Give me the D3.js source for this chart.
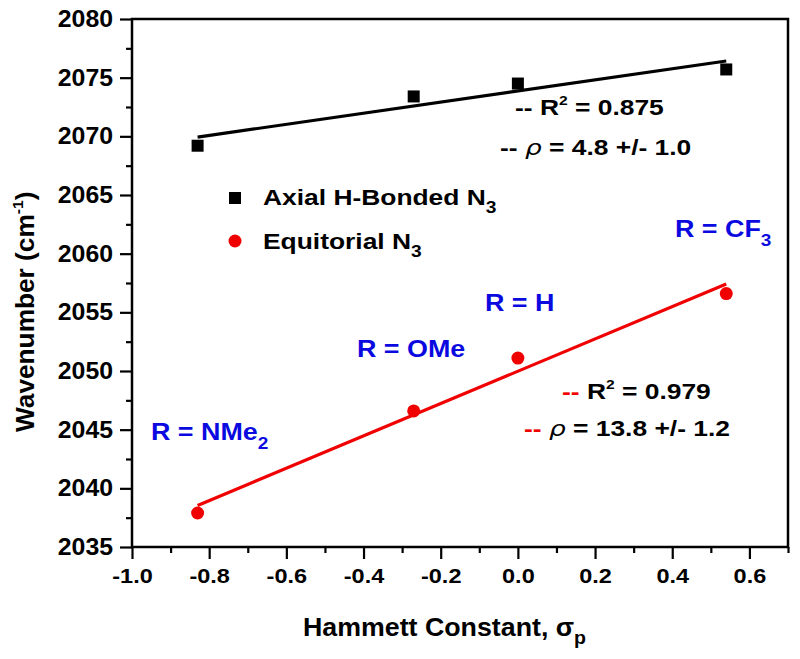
<!DOCTYPE html>
<html>
<head>
<meta charset="utf-8">
<script src="https://cdn.jsdelivr.net/npm/d3@7"></script>
<style>
  html, body { margin: 0; padding: 0; background: #fff; }
  svg text { font-family: "Liberation Sans", Arial, sans-serif; font-weight: bold; }
</style>
</head>
<body>
<svg id="chart" width="800" height="659"></svg>
<script>
// ---- data ----
const sigma = [-0.83, -0.27, 0.0, 0.54];
const axialN3 = [2069.2, 2073.4, 2074.5, 2075.7];
const equatorialN3 = [2037.9, 2046.6, 2051.1, 2056.6];
const substituentLabels = ["NMe2", "OMe", "H", "CF3"];
const xTicks = [-1.0, -0.8, -0.6, -0.4, -0.2, 0.0, 0.2, 0.4, 0.6];
const yTicks = [2035, 2040, 2045, 2050, 2055, 2060, 2065, 2070, 2075, 2080];
const xMinorTicks = [-0.9, -0.7, -0.5, -0.3, -0.1, 0.1, 0.3, 0.5, 0.7];
const yMinorTicks = [2037.5, 2042.5, 2047.5, 2052.5, 2057.5, 2062.5, 2067.5, 2072.5, 2077.5];
const axialStats = { r2: "0.875", rho: "4.8 +/- 1.0" };
const equatorialStats = { r2: "0.979", rho: "13.8 +/- 1.2" };

// ---- layout ----
const svg = d3.select("#chart");
const L = 132, R = 788, T = 19, B = 547;
const x = d3.scaleLinear().domain([-1.0, 0.7]).range([L, R]);
const y = d3.scaleLinear().domain([2035, 2080]).range([B, T]);

function fit(xs, ys) {
  const mx = d3.mean(xs), my = d3.mean(ys);
  let sxy = 0, sxx = 0;
  xs.forEach((v, i) => { sxy += (v - mx) * (ys[i] - my); sxx += (v - mx) * (v - mx); });
  const m = sxy / sxx;
  return v => my + m * (v - mx);
}

// text placed at (tx,ty) with horizontal stretch sx
function stext(tx, ty, size, sx, color, rot) {
  return svg.append("text")
    .attr("transform", `translate(${tx},${ty})` + (rot ? ` rotate(${rot})` : "") + ` scale(${sx},1)`)
    .attr("font-size", size).attr("fill", color || "#000");
}

// fit lines
const xr = d3.extent(sigma);
[[axialN3, "#000"], [equatorialN3, "#f00000"]].forEach(([ys, c]) => {
  const f = fit(sigma, ys);
  svg.append("path")
    .attr("d", d3.line()([[x(xr[0]), y(f(xr[0]))], [x(xr[1]), y(f(xr[1]))]]))
    .attr("stroke", c).attr("stroke-width", 3.2).attr("fill", "none");
});

// points
svg.append("g").selectAll("rect").data(sigma).join("rect")
  .attr("x", (d) => x(d) - 6).attr("y", (d, i) => y(axialN3[i]) - 6)
  .attr("width", 12).attr("height", 12).attr("fill", "#000");
svg.append("g").selectAll("circle").data(sigma).join("circle")
  .attr("cx", d => x(d)).attr("cy", (d, i) => y(equatorialN3[i]))
  .attr("r", 6.5).attr("fill", "#f00000");

// axes
const xSx = 1.12, ySx = 1.08;
const xAxis = svg.append("g").attr("transform", `translate(0,${B})`)
  .call(d3.axisBottom(x).tickValues(xTicks).tickFormat(d3.format(".1f")).tickSize(12).tickPadding(9));
svg.append("g").attr("transform", `translate(0,${B})`)
  .call(d3.axisBottom(x).tickValues(xMinorTicks).tickFormat("").tickSize(6))
  .call(g => g.select(".domain").remove());
const yAxis = svg.append("g").attr("transform", `translate(${L},0)`)
  .call(d3.axisLeft(y).tickValues(yTicks).tickFormat(d3.format("d")).tickSize(12).tickPadding(7));
svg.append("g").attr("transform", `translate(${L},0)`)
  .call(d3.axisLeft(y).tickValues(yMinorTicks).tickFormat("").tickSize(6))
  .call(g => g.select(".domain").remove());
svg.selectAll(".tick line").attr("stroke", "#000").attr("stroke-width", 2.2);
svg.selectAll(".domain").remove();
xAxis.selectAll("text").attr("font-size", 21).attr("fill", "#000")
  .style("font-family", "'Liberation Sans', Arial, sans-serif").style("font-weight", "bold")
  .attr("transform", `scale(${xSx},1)`)
  .text(d => d3.format(".1f")(d).replace("−", "-"));
yAxis.selectAll("text").attr("font-size", 23).attr("fill", "#000")
  .style("font-family", "'Liberation Sans', Arial, sans-serif").style("font-weight", "bold")
  .attr("x", -19 / ySx).attr("transform", `scale(${ySx},1)`);

// frame
svg.append("rect").attr("x", L).attr("y", T).attr("width", R - L).attr("height", B - T)
  .attr("fill", "none").attr("stroke", "#000").attr("stroke-width", 2.5);

// axis titles
const xt = stext(303, 636, 26, 1.03);
xt.append("tspan").text("Hammett Constant, σ");
xt.append("tspan").attr("dy", 8).attr("font-size", 19).text("p");

const yt = stext(34, 432, 25, 1.05, "#000", -90);
yt.append("tspan").text("Wavenumber (cm");
yt.append("tspan").attr("dy", -11).attr("font-size", 15).text("-1");
yt.append("tspan").attr("dy", 11).text(")");

// legend
svg.append("rect").attr("x", 229).attr("y", 192).attr("width", 12).attr("height", 12).attr("fill", "#000");
svg.append("circle").attr("cx", 235).attr("cy", 241).attr("r", 6.5).attr("fill", "#f00000");
const l1 = stext(263, 205, 22, 1.2);
l1.append("tspan").text("Axial H-Bonded N");
l1.append("tspan").attr("dy", 8).attr("font-size", 16).text("3");
const l2 = stext(263, 249, 22, 1.2);
l2.append("tspan").text("Equitorial N");
l2.append("tspan").attr("dy", 8).attr("font-size", 16).text("3");

// stats annotations
function stats(x0, yb, x1, yb2, s, dashColor) {
  const t1 = stext(x0, yb, 22, 1.2);
  t1.append("tspan").attr("fill", dashColor).text("-- ");
  t1.append("tspan").text("R");
  t1.append("tspan").attr("dy", -10).attr("font-size", 13).text("2");
  t1.append("tspan").attr("dy", 10).text(" = " + s.r2);
  const t2 = stext(x1, yb2, 22, 1.2);
  t2.append("tspan").attr("fill", dashColor).text("-- ");
  t2.append("tspan").attr("font-style", "italic")
    .style("font-family", "'DejaVu Sans', sans-serif").style("font-weight", "normal").text("ρ");
  t2.append("tspan").text(" = " + s.rho);
}
stats(515, 115, 500, 155, axialStats, "#000");
stats(562, 399, 524, 436, equatorialStats, "#f00000");

// substituent labels
const labelPos = [[151, 440], [357, 357], [485, 311], [675, 237]];
substituentLabels.forEach((lab, i) => {
  const t = stext(labelPos[i][0], labelPos[i][1], 24, 1.12, "#0a0ae0");
  const m = lab.match(/^(\D+)(\d*)$/);
  t.append("tspan").text("R = " + m[1]);
  if (m[2]) t.append("tspan").attr("dy", 9).attr("font-size", 17).text(m[2]);
});
</script>
</body>
</html>
